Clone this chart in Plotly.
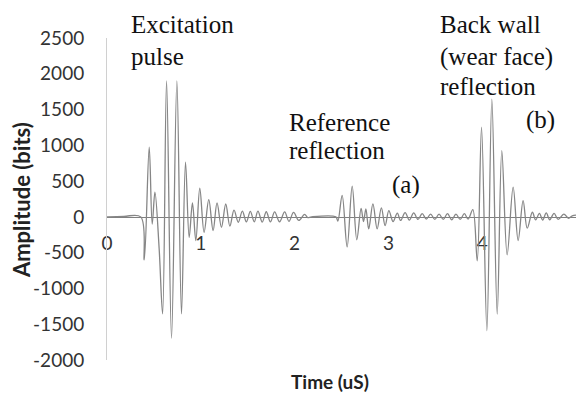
import plotly.graph_objects as go

# Ultrasonic A-scan: extrema of the received waveform (time in µs, amplitude in bits)
time_us = [
    0.00, 0.18, 0.36,
    # excitation pulse
    0.397, 0.450, 0.482, 0.511, 0.556, 0.593, 0.635, 0.688, 0.745, 0.794,
    0.837, 0.876, 0.911, 0.947, 0.989, 1.035, 1.085, 1.131, 1.173, 1.220,
    1.266, 1.310, 1.354, 1.400, 1.443, 1.486, 1.528, 1.570, 1.609, 1.655,
    1.698, 1.742, 1.787, 1.840, 1.894, 1.940, 1.989, 2.045, 2.106, 2.140,
    2.180, 2.440,
    # reference reflection (a)
    2.461, 2.507, 2.560, 2.614, 2.663, 2.709, 2.735, 2.760, 2.790, 2.835,
    2.880, 2.925, 2.965, 3.005, 3.050, 3.095, 3.130, 3.178, 3.223, 3.270,
    3.316, 3.360, 3.405, 3.450, 3.495, 3.540, 3.585, 3.630, 3.675, 3.720,
    3.765, 3.810, 3.850,
    # back wall (wear face) reflection (b)
    3.900, 3.947, 3.993, 4.050, 4.103, 4.160, 4.209, 4.266, 4.330, 4.383,
    4.436, 4.480, 4.535, 4.570, 4.610, 4.645, 4.683, 4.720, 4.766, 4.810,
    4.870, 4.920, 4.960, 5.000,
]
amplitude_bits = [
    0, 8, 0,
    -600, 975, -100, 345, -445, -1355, 1900, -1695, 1900, -1355,
    765, -285, 195, -330, 400, -215, 240, -190, 195, -145,
    180, -130, 95, -75, 80, -70, 78, -70, 80, -72,
    72, -70, 70, -68, 70, -62, 62, -50, 35, -10,
    0, 0,
    -60, 300, -420, 430, -320, 120, -65, 112, -168, 182,
    -168, 126, -121, 88, -65, 52, -50, 60, -45, 55,
    -35, 45, -30, 40, -35, 40, -35, 45, -40, 40,
    -35, 45, -30,
    100, -615, 1255, -1590, 1645, -1360, 925, -530, 415, -330,
    228, -158, 65, -42, 50, -45, 56, -40, 50, -35,
    40, -20, 15, 25,
]

x_ticks = [0, 1, 2, 3, 4, 5]
y_ticks = [-2000, -1500, -1000, -500, 0, 500, 1000, 1500, 2000, 2500]

fig = go.Figure()
fig.add_trace(go.Scatter(
    x=time_us, y=amplitude_bits, mode="lines",
    line=dict(color="#868686", width=1.3, shape="spline", smoothing=1.0),
    showlegend=False, hoverinfo="skip",
))

tick_font = dict(family="Lato, Carlito, sans-serif", size=19, color="#333333")
serif = dict(family="Liberation Serif, Times New Roman, serif", size=25, color="#111111")

fig.update_layout(
    width=576, height=394,
    margin=dict(l=107, r=0, t=38, b=34),
    paper_bgcolor="white", plot_bgcolor="white",
    xaxis=dict(
        range=[0, 5], tickvals=x_ticks, ticktext=[str(v) for v in x_ticks],
        anchor="free", position=2000 / 4500,
        showline=True, linecolor="#7f7f7f", linewidth=1,
        showgrid=False, zeroline=False, ticks="",
        ticklabelstandoff=9, tickfont=tick_font, layer="below traces",
    ),
    yaxis=dict(
        range=[-2000, 2500], tickvals=y_ticks, ticktext=[str(v) for v in y_ticks],
        showline=True, linecolor="#d0d0d0", linewidth=1,
        showgrid=False, zeroline=False, ticks="",
        ticklabelstandoff=18, tickfont=tick_font,
    ),
)

# Text callouts, placed in paper coordinates of the plot area
labels = [
    ("Excitation", 0.0469, 1.0404, "left"),
    ("pulse", 0.0469, 0.941, "left"),
    ("Reference", 0.3838, 0.739, "left"),
    ("reflection", 0.3838, 0.652, "left"),
    ("(a)", 0.6034, 0.5435, "left"),
    ("Back wall", 0.7058, 1.0404, "left"),
    ("(wear face)", 0.7058, 0.941, "left"),
    ("reflection", 0.7058, 0.848, "left"),
    ("(b)", 0.9595, 0.745, "right"),
]
for text, x, y, anchor in labels:
    fig.add_annotation(x=x, y=y, xref="paper", yref="paper", text=text, showarrow=False,
                       xanchor=anchor, yanchor="middle", font=serif)

fig.add_annotation(text="<b>Time (uS)</b>", xref="paper", yref="paper",
                   x=0.475, y=-0.068, showarrow=False,
                   xanchor="center", yanchor="middle",
                   font=dict(family="Lato, Carlito, sans-serif", size=19, color="#222222"))
fig.add_annotation(text="<b>Amplitude (bits)</b>", xref="paper", yref="paper",
                   x=-0.181, y=0.497, showarrow=False, textangle=-90,
                   xanchor="center", yanchor="middle",
                   font=dict(family="Lato, Carlito, sans-serif", size=22, color="#222222"))

fig.write_html("out.html")
